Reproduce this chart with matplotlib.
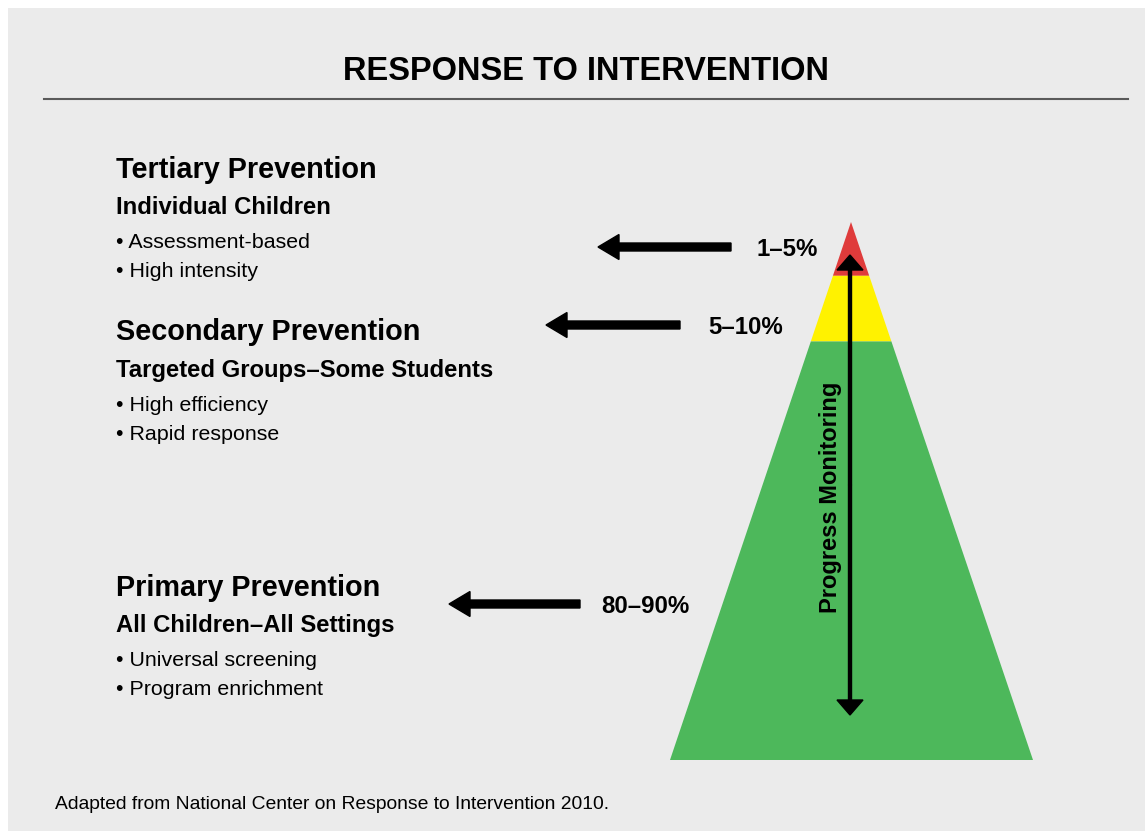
import matplotlib
matplotlib.use("Agg")
import matplotlib.pyplot as plt
from matplotlib.patches import Polygon, Rectangle, FancyArrow

plt.rcParams['font.family'] = ['Liberation Sans', 'DejaVu Sans']

W, H = 1145, 831

title = "RESPONSE TO INTERVENTION"
tier_names = ["Tertiary Prevention", "Secondary Prevention", "Primary Prevention"]
tier_subs = ["Individual Children", "Targeted Groups\u2013Some Students", "All Children\u2013All Settings"]
tier_bullets = [["Assessment-based", "High intensity"],
                ["High efficiency", "Rapid response"],
                ["Universal screening", "Program enrichment"]]
tier_pcts = ["1\u20135%", "5\u201310%", "80\u201390%"]
tier_colors = ["#df3b3b", "#fff200", "#4db85b"]
# tier boundaries as fraction of pyramid height from apex
tier_bounds = [0.0, 0.10, 0.222, 1.0]
footnote = "Adapted from National Center on Response to Intervention 2010."
axis_label = "Progress Monitoring"

fig = plt.figure(figsize=(W / 100, H / 100), dpi=100)
fig.patch.set_facecolor("white")
ax = fig.add_axes([0, 0, 1, 1])
ax.set_xlim(0, W)
ax.set_ylim(H, 0)
ax.axis("off")

ax.add_patch(Rectangle((8, 8), W - 8, H - 8, facecolor="#ebebeb", edgecolor="none"))

ax.text(586, 71, title, ha="center", va="center", fontsize=23.5, fontweight="bold", color="black")
ax.plot([44, 1128], [99, 99], color="#5a5a5a", lw=1.5)

# pyramid
apex = (851, 222)
base_l, base_r, base_y = 670, 1033, 760
hgt = base_y - apex[1]
def xl(f):
    return apex[0] + (base_l - apex[0]) * f
def xr(f):
    return apex[0] + (base_r - apex[0]) * f
for i, c in enumerate(tier_colors):
    f0, f1 = tier_bounds[i], tier_bounds[i + 1]
    y0, y1 = apex[1] + hgt * f0, apex[1] + hgt * f1
    ax.add_patch(Polygon([(xl(f0), y0), (xr(f0), y0), (xr(f1), y1), (xl(f1), y1)],
                         closed=True, facecolor=c, edgecolor="none"))

# progress monitoring double arrow
mid = (255 + 715) / 2
for end in (255, 715):
    ax.add_patch(FancyArrow(850, mid, 0, end - mid, width=3, head_width=26, head_length=15,
                            length_includes_head=True, color="black"))
ax.text(831, 497, axis_label, rotation=90, ha="center", va="center", fontsize=17, fontweight="bold")

# text blocks
dy = 2.5
block_y = [167, 330, 585]
for name, sub, bullets, y in zip(tier_names, tier_subs, tier_bullets, block_y):
    ax.text(116, y + dy, name, ha="left", va="center", fontsize=20.8, fontweight="bold")
    ax.text(116, y + 38 + dy, sub, ha="left", va="center", fontsize=17.2, fontweight="bold")
    for j, b in enumerate(bullets):
        ax.text(116, y + 73 + 29 * j + dy, "\u2022 " + b, ha="left", va="center", fontsize=15.4)

# arrows with percentages
arrow_y = [247, 325, 604]
arrow_x0 = [731, 680, 580]
arrow_x1 = [598, 546, 449]
pct_x = [757, 708, 601]
for pct, y, x0, x1, px in zip(tier_pcts, arrow_y, arrow_x0, arrow_x1, pct_x):
    ax.add_patch(FancyArrow(x0, y, x1 - x0, 0, width=8, head_width=25, head_length=21,
                            length_includes_head=True, color="black"))
    ax.text(px, y + dy, pct, ha="left", va="center", fontsize=17.3, fontweight="bold")

ax.text(55, 802 + dy, footnote, ha="left", va="center", fontsize=13.9)

fig.savefig("out.png", dpi=100, facecolor=fig.get_facecolor())
